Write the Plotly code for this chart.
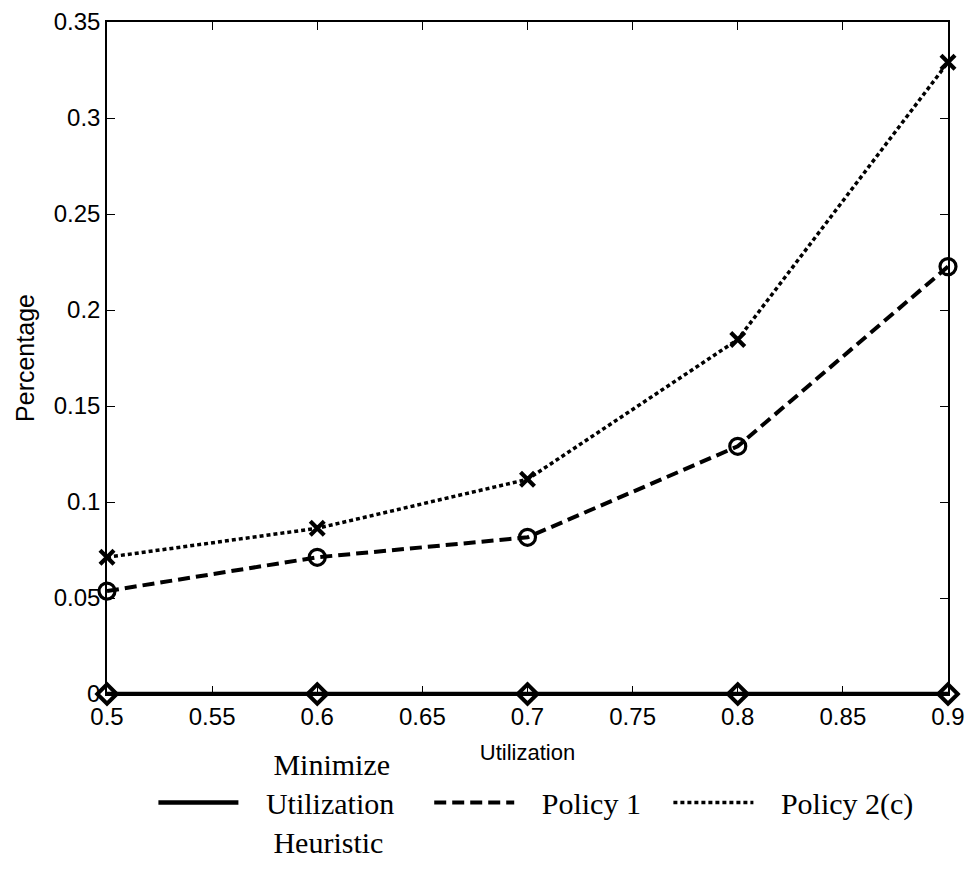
import plotly.graph_objects as go

utilization = [0.5, 0.6, 0.7, 0.8, 0.9]
heuristic = [0.0, 0.0, 0.0, 0.0, 0.0]
policy1 = [0.0536, 0.0712, 0.0816, 0.129, 0.2226]
policy2c = [0.0712, 0.0863, 0.1118, 0.1846, 0.329]

x_ticks = [0.5, 0.55, 0.6, 0.65, 0.7, 0.75, 0.8, 0.85, 0.9]
x_ticklabels = ["0.5", "0.55", "0.6", "0.65", "0.7", "0.75", "0.8", "0.85", "0.9"]
y_ticks = [0, 0.05, 0.1, 0.15, 0.2, 0.25, 0.3, 0.35]
y_ticklabels = ["0", "0.05", "0.1", "0.15", "0.2", "0.25", "0.3", "0.35"]

NB = "&nbsp;"
pre = NB * 3
names = [
    pre + NB + "Minimize" + "<br>" + pre + "Utilization" + NB * 4 + "<br>" + pre + NB + "Heuristic",
    NB + "<br>" + pre + "Policy 1" + NB * 3 + "<br>" + NB,
    NB + "<br>" + pre + "Policy 2(c)" + "<br>" + NB,
]

fig = go.Figure()

series = [
    (heuristic, names[0], dict(color="black", width=4.5),
     dict(symbol="diamond-open", size=15, line=dict(color="black", width=4))),
    (policy1, names[1], dict(color="black", width=4, dash="12px,6px"),
     dict(symbol="circle-open", size=16, line=dict(color="black", width=3.2))),
    (policy2c, names[2], dict(color="black", width=3.5, dash="4px,3px"),
     dict(symbol="x-thin-open", size=14, line=dict(color="black", width=4.2))),
]

for yvals, name, line, marker in series:
    fig.add_trace(go.Scatter(x=utilization, y=yvals, mode="lines", name=name,
                             line=line, cliponaxis=False, showlegend=True))
    fig.add_trace(go.Scatter(x=utilization, y=yvals, mode="markers",
                             marker=dict(color="black", **marker),
                             cliponaxis=False, showlegend=False, hoverinfo="skip"))

axis_common = dict(
    showline=True, linecolor="black", linewidth=1.5, mirror="ticks",
    ticks="inside", ticklen=8, tickwidth=1.2, tickcolor="black",
    showgrid=False, zeroline=False, automargin=False,
    tickfont=dict(family="Liberation Sans, Arial", size=24, color="black"),
)

fig.update_xaxes(range=[0.5, 0.9], tickvals=x_ticks, ticktext=x_ticklabels,
                 title=dict(text="Utilization",
                            font=dict(family="Liberation Sans, Arial", size=22, color="black"),
                            standoff=16),
                 **axis_common)
fig.update_yaxes(range=[0, 0.35], tickvals=y_ticks, ticktext=y_ticklabels,
                 title=dict(text="Percentage",
                            font=dict(family="Liberation Sans, Arial", size=25, color="black"),
                            standoff=12),
                 **axis_common)

fig.update_layout(
    width=969, height=878,
    margin=dict(l=107, r=21, t=22, b=183),
    plot_bgcolor="white", paper_bgcolor="white",
    legend=dict(orientation="h", x=0.51, xanchor="center", y=-0.063, yanchor="top",
                font=dict(family="Liberation Serif, Times New Roman", size=30, color="black"),
                itemwidth=80, valign="middle", tracegroupgap=0),
)

fig.write_html("out.html")
